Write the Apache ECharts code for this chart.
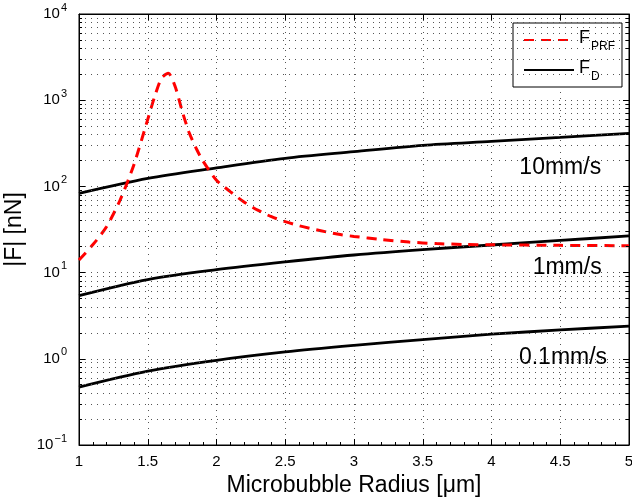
<!DOCTYPE html>
<html>
<head>
<meta charset="utf-8">
<script src="https://cdn.jsdelivr.net/npm/echarts@6/dist/echarts.min.js"></script>
<style>
  html, body {margin: 0; padding: 0; background: #fff;}
  #chart {width: 632px; height: 500px;}
</style>
</head>
<body>
<div id="chart"></div>
<script>
// microbubble radius [um]
var radius = [1, 1.5, 2, 2.5, 3, 3.5, 4, 4.5, 5];
// drag force |F_D| [nN] for the three flow speeds
var fd10 = [83, 124, 164, 212, 253, 300, 333, 370, 413];
var fd1 = [5.4, 8.3, 10.8, 13.3, 16.0, 18.5, 20.9, 23.6, 26.6];
var fd01 = [0.47, 0.72, 0.96, 1.2, 1.43, 1.67, 1.93, 2.16, 2.4];
// primary radiation force |F_PRF| [nN]
var prfRadius = [1, 1.1, 1.2, 1.3, 1.4, 1.5, 1.55, 1.6, 1.65, 1.7, 1.75, 1.8, 1.85, 1.9, 2, 2.1, 2.2, 2.3, 2.4, 2.5, 2.6, 2.7, 2.8, 2.9, 3, 3.2, 3.4, 3.6, 3.8, 4, 4.5, 5];
var prf = [14, 21, 34, 70, 180, 600, 1100, 1800, 2050, 1430, 750, 425, 281, 199, 118, 87, 66, 53, 44.5, 39, 35, 32, 29.6, 27.6, 26.3, 24.2, 22.6, 21.7, 21.2, 21, 20.7, 20.5];
var speedLabels = ['10mm/s', '1mm/s', '0.1mm/s'];

var FONT = 'Liberation Sans, Arial, sans-serif';

function pairs(xs, ys) {
  var out = [];
  for (var i = 0; i < xs.length; i++) out.push([xs[i], ys[i]]);
  return out;
}

// minor log grid lines at 2..9 x 10^k
var minorVals = [];
for (var k = -1; k < 4; k++) {
  for (var m = 2; m < 10; m++) minorVals.push(+(m * Math.pow(10, k)).toPrecision(3));
}
var minorGrid = minorVals.map(function (v) { return {yAxis: v}; });
var minorTicks = [];
minorVals.forEach(function (v) {
  minorTicks.push([{coord: [1, v]}, {coord: [1.022, v]}]);
  minorTicks.push([{coord: [4.978, v]}, {coord: [5, v]}]);
});

var dotted = {color: '#555', width: 1, type: [1, 5]};

function fdSeries(data, label, pos) {
  return {
    name: 'F_D',
    type: 'line',
    data: pairs(radius, data),
    smooth: 0.3,
    symbol: 'none',
    lineStyle: {color: '#000', width: 2.8},
    itemStyle: {color: '#000'},
    z: 3,
    markPoint: {
      symbol: 'circle',
      symbolSize: 0,
      silent: true,
      label: {show: true, position: 'inside', formatter: '{b}', color: '#000', fontFamily: FONT, fontSize: 23},
      data: [{name: label, coord: pos}]
    }
  };
}

var chart = echarts.init(document.getElementById('chart'));
chart.setOption({
  animation: false,
  textStyle: {fontFamily: FONT},
  grid: {left: 79, right: 3, top: 14, bottom: 55, outerBoundsMode: 'none', containLabel: false,
    show: true, borderColor: '#000', borderWidth: 1},
  legend: {
    orient: 'vertical',
    left: 513,
    top: 23,
    padding: [6, 7, 4, 10],
    itemWidth: 50,
    itemHeight: 14,
    itemGap: 6,
    backgroundColor: '#fff',
    borderColor: '#000',
    borderWidth: 1,
    borderRadius: 0,
    itemStyle: {opacity: 0},
    data: ['F_PRF', 'F_D'],
    formatter: function (name) {
      return name === 'F_PRF' ? '{m|F}{s|PRF}' : '{m|F}{s|D}';
    },
    textStyle: {
      rich: {
        m: {fontSize: 18, color: '#000', fontFamily: FONT, padding: [0, 0, 4, 0]},
        s: {fontSize: 12, color: '#000', fontFamily: FONT, padding: [14, 0, 0, 1]}
      }
    }
  },
  xAxis: [{
    type: 'value',
    min: 1,
    max: 5,
    interval: 0.5,
    name: 'Microbubble Radius [μm]',
    nameLocation: 'middle',
    nameGap: 24,
    nameTextStyle: {fontSize: 23, color: '#000', fontFamily: FONT},
    axisLine: {lineStyle: {color: '#000', width: 1}},
    axisTick: {inside: true, length: 6, lineStyle: {color: '#000'}},
    minorTick: {show: true, splitNumber: 5, length: 3, lineStyle: {color: '#000'}},
    axisLabel: {fontSize: 15, color: '#000', margin: 9, fontFamily: FONT},
    splitLine: {show: true, lineStyle: dotted}
  }, {
    type: 'value',
    position: 'top',
    min: 1,
    max: 5,
    interval: 0.5,
    axisLine: {lineStyle: {color: '#000', width: 1}},
    axisTick: {inside: true, length: 6, lineStyle: {color: '#000'}},
    axisLabel: {show: false},
    splitLine: {show: false}
  }],
  yAxis: [{
    type: 'log',
    logBase: 10,
    min: 0.1,
    max: 10000,
    name: '|F| [nN]',
    nameLocation: 'middle',
    nameGap: 40,
    nameTextStyle: {fontSize: 23, color: '#000', fontFamily: FONT},
    axisLine: {lineStyle: {color: '#000', width: 1}},
    axisTick: {inside: true, length: 6, lineStyle: {color: '#000'}},
    axisLabel: {
      margin: 12,
      formatter: function (v) {
        var e = Math.round(Math.log(v) / Math.LN10);
        return '{b|10}{s|' + (e < 0 ? '\u2212' + (-e) : e) + '}';
      },
      rich: {
        b: {fontSize: 15, color: '#000', fontFamily: FONT},
        s: {fontSize: 11, color: '#000', fontFamily: FONT, padding: [0, 0, 13, 1]}
      }
    },
    splitLine: {show: true, lineStyle: dotted}
  }, {
    type: 'log',
    logBase: 10,
    min: 0.1,
    max: 10000,
    position: 'right',
    axisLine: {lineStyle: {color: '#000', width: 1}},
    axisTick: {inside: true, length: 6, lineStyle: {color: '#000'}},
    axisLabel: {show: false},
    splitLine: {show: false}
  }],
  series: [
    {
      // minor grid and minor ticks of the log axis
      name: 'grid',
      type: 'line',
      data: [],
      silent: true,
      z: 1,
      markLine: {
        silent: true,
        symbol: 'none',
        label: {show: false},
        lineStyle: dotted,
        data: minorGrid
      }
    },
    {
      name: 'ticks',
      type: 'line',
      data: [],
      silent: true,
      z: 1,
      markLine: {
        silent: true,
        symbol: 'none',
        label: {show: false},
        lineStyle: {color: '#000', width: 1, type: 'solid'},
        data: minorTicks
      }
    },
    {
      name: 'F_PRF',
      type: 'line',
      data: pairs(prfRadius, prf),
      smooth: 0.25,
      symbol: 'none',
      lineStyle: {color: '#ff0000', width: 3, type: [10, 7]},
      itemStyle: {color: '#ff0000'},
      z: 4
    },
    fdSeries(fd10, speedLabels[0], [4.5, 163]),
    fdSeries(fd1, speedLabels[1], [4.55, 11.3]),
    fdSeries(fd01, speedLabels[2], [4.52, 1.02])
  ]
});
</script>
</body>
</html>
